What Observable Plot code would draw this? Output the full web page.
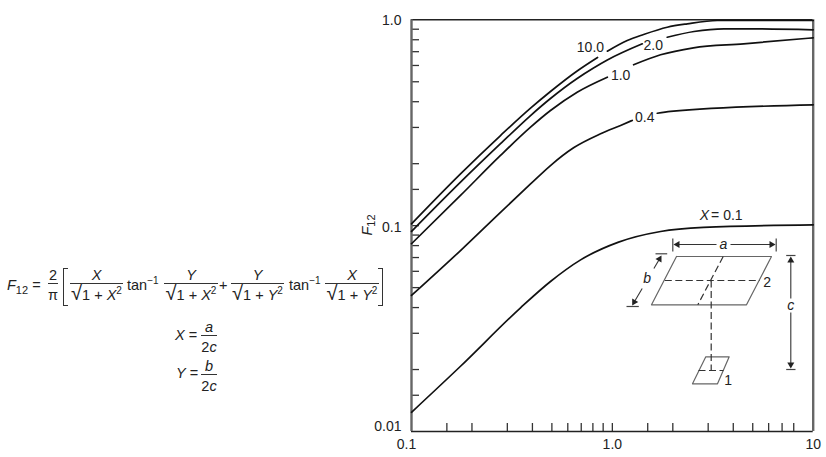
<!DOCTYPE html>
<html><head><meta charset="utf-8">
<script src="https://cdn.jsdelivr.net/npm/d3@7"></script>
<script src="https://cdn.jsdelivr.net/npm/@observablehq/plot@0.6"></script>
<style>
html,body{margin:0;padding:0;background:#fff}
#wrap{position:relative;width:826px;height:457px;overflow:hidden;font-family:"Liberation Sans",Arial,sans-serif;color:#222}
#wrap svg{position:absolute;left:0;top:0;background:transparent}
.t{position:absolute;font-size:14.5px;line-height:16px;white-space:nowrap}
.c{transform:translateX(-50%)}
.bar{position:absolute;height:1px;background:#333}
sub{font-size:11px;line-height:0}
sup{font-size:10px;line-height:0}
.br{position:absolute;width:4px;border:1.3px solid #333}
</style></head><body><div id="wrap"></div>
<script>
// Curve readings: X on the x axis, F12 on the y axis. NaN marks a break for the curve's label.
const x01 = [0.1,0.1754,0.349,0.492,0.695,1.074,1.738,2.845,10];
const y01 = [0.0124,0.02075,0.0399,0.05355,0.0682,0.0832,0.0937,0.098,0.1009];
const x04 = [0.1,0.1754,0.2774,0.3915,0.492,0.641,0.874,1.099,1.256,1.45,1.674,1.95,10];
const y04 = [0.0458,0.0757,0.1161,0.1594,0.1959,0.2388,0.2793,0.3068,0.3245,NaN,0.3516,0.3589,0.3864];
const x10 = [0.1,0.1754,0.2774,0.3915,0.492,0.668,0.944,1.1,1.276,1.738,2.535,4.5,10];
const y10 = [0.0817,0.1402,0.2193,0.3009,0.3624,0.4449,0.5263,NaN,0.6045,0.6761,0.7311,0.7645,0.8178];
const x20 = [0.1,0.1754,0.2774,0.3915,0.492,0.668,0.806,0.944,1.41,1.6,1.876,2.55,3.59,4.88,10];
const y20 = [0.0937,0.1626,0.25,0.3428,0.4147,0.5188,0.5832,0.6378,0.7645,NaN,0.823,0.8773,0.9043,0.9043,0.894];
const x100 = [0.1,0.1754,0.2774,0.3915,0.492,0.668,0.844,0.9,0.944,1.186,1.43,1.876,2.36,3.33,10];
const y100 = [0.1021,0.1786,0.2741,0.3722,0.4484,0.5641,0.656,NaN,0.704,0.7935,0.8485,0.9205,0.9563,0.992,0.992];

const xTicks = [0.15,0.2,0.3,0.4,0.5,0.6,0.7,0.8,0.9,1,1.5,2,3,4,5,6,7,8];
const yTicks = [0.015,0.02,0.03,0.04,0.05,0.06,0.07,0.08,0.09,0.1,0.15,0.2,0.3,0.4,0.5,0.6,0.7,0.8,0.9];
const xLabelValues = [0.1,1,10];
const xLabelTexts = ["0.1","1.0","10"];
const yLabelValues = [0.01,0.1,1];
const yLabelTexts = ["0.01","0.1","1.0"];

const curveLabels = ["10.0","2.0","1.0","0.4"];
const curveLabelX = [0.778,1.597,1.10,1.45];
const curveLabelY = [0.7336,0.75,0.536,0.335];

const table = (xs,ys) => xs.map((x,i)=>({x,y:ys[i]}));
const lineOpts = {x:"x",y:"y",stroke:"#111",strokeWidth:1.7,curve:"monotone-x"};
const txt = {fontFamily:"Liberation Sans, Arial, sans-serif",fontSize:14,fill:"#222"};
const xNudge = [-5,0,0];
const yNudge = [-5,2,1];

const main = Plot.plot({
  width:826,height:457,
  marginLeft:411,marginRight:13.3,marginTop:19.3,marginBottom:26,
  x:{type:"log",domain:[0.1,10]},
  y:{type:"log",domain:[0.01,1]},
  marks:[
    Plot.axisX({ticks:xTicks,tickSize:-8,tickFormat:()=>"",stroke:"#333",strokeWidth:1.3,label:null}),
    Plot.axisY({ticks:yTicks,tickSize:-8,tickFormat:()=>"",stroke:"#333",strokeWidth:1.3,label:null}),
    Plot.ruleY([1,0.01],{stroke:"#222",strokeWidth:1.4}),
    Plot.ruleX([0.1,10],{stroke:"#666",strokeWidth:2.4}),
    Plot.line(table(x01,y01),lineOpts),
    Plot.line(table(x04,y04),lineOpts),
    Plot.line(table(x10,y10),lineOpts),
    Plot.line(table(x20,y20),lineOpts),
    Plot.line(table(x100,y100),lineOpts),
    ...xLabelValues.map((v,i)=>Plot.text([v],{x:d=>d,frameAnchor:"bottom",text:()=>xLabelTexts[i],dy:17,dx:xNudge[i],...txt})),
    ...yLabelValues.map((v,i)=>Plot.text([v],{y:d=>d,frameAnchor:"left",text:()=>yLabelTexts[i],textAnchor:"end",dx:-10,dy:yNudge[i],...txt})),
    Plot.text(curveLabels,{x:(d,i)=>curveLabelX[i],y:(d,i)=>curveLabelY[i],text:d=>d,...txt}),
    Plot.text(["X"],{x:[3.52],y:[0.112],text:d=>d,textAnchor:"end",dx:-13,fontStyle:"italic",...txt}),
    Plot.text(["= 0.1"],{x:[3.52],y:[0.112],text:d=>d,textAnchor:"start",dx:-11,...txt})
  ]
});
main.style.background="transparent";

// Schematic of the two plates, in its own local units.
const plate2 = [[56,56],[151,56],[126,104.3],[31,104.3],[56,56]];
const plate1 = [[85.3,156.3],[108.7,156.3],[97,183.3],[72,183.3],[85.3,156.3]];
const dashes = [[44.3,80,139.3,80],[102.7,56,77.3,104.3],[90.7,80,90.7,170],[78,170,103,170]];
const endTicks = [[52.3,38,52.3,51],[155.7,38,155.7,51],[35,53.3,46.7,53.3],[6,106,18.3,106],[165.7,55,175,55],[165.7,169,175,169]];
const shafts = [[96,44,57,44],[110,44,151,44],[33.4,68,39,58.5],[21.7,88,13.7,101.5],[170.3,98,170.3,60],[170.3,112,170.3,164]];
const heads = [[57,44,-90],[151,44,90],[39,58.5,30],[13.7,101.5,210],[170.3,60,0],[170.3,164,180]];
const schematicLabels = [["a",103,44,true],["b",26.7,77.7,true],["c",170.3,105,true],["2",146.7,82.3,false],["1",107.7,180,false]];

const schem = Plot.plot({
  width:200,height:190,margin:0,
  x:{domain:[0,200],axis:null},
  y:{domain:[190,0],range:[190,0],axis:null},
  marks:[
    Plot.line(plate2,{x:"0",y:"1",stroke:"#666",strokeWidth:1.2}),
    Plot.line(plate1,{x:"0",y:"1",stroke:"#666",strokeWidth:1.2}),
    Plot.link(dashes,{x1:"0",y1:"1",x2:"2",y2:"3",stroke:"#333",strokeWidth:1.2,strokeDasharray:"7 3.5"}),
    Plot.link(endTicks,{x1:"0",y1:"1",x2:"2",y2:"3",stroke:"#444",strokeWidth:1.2}),
    Plot.link(shafts,{x1:"0",y1:"1",x2:"2",y2:"3",stroke:"#333",strokeWidth:1.1}),
    Plot.dot(heads,{x:"0",y:"1",rotate:"2",symbol:"triangle",r:2.6,fill:"#222",stroke:"none"}),
    Plot.text(schematicLabels.filter(d=>d[3]),{x:"1",y:"2",text:"0",fontStyle:"italic",...txt,fontSize:14}),
    Plot.text(schematicLabels.filter(d=>!d[3]),{x:"1",y:"2",text:"0",...txt})
  ]
});
schem.style.left="620px";schem.style.top="200px";schem.style.background="transparent";

const wrap=document.getElementById("wrap");
wrap.append(main,schem);

// Formula and axis title as real text
const add=(html,left,top,cls="")=>{const d=document.createElement("div");d.className="t "+cls;d.innerHTML=html;d.style.left=left+"px";d.style.top=top+"px";wrap.append(d);return d;};
const bar=(l,t,w)=>{const d=document.createElement("div");d.className="bar";d.style.cssText=`left:${l}px;top:${t}px;width:${w}px`;wrap.append(d);};
const frac=(num,den,l,w,yBar)=>{bar(l,yBar,w);add(num,l+w/2,yBar-16,"c");add(den,l+w/2,yBar+4,"c");};
const root=(a)=>`<span style="font-size:20px;line-height:0">√</span>1 + <i>${a}</i><sup>2</sup>`;

add('<i>F</i><sub>12</sub> =',7,277);
frac('2','π',48,10,283);
const lb=document.createElement("div");lb.className="br";lb.style.cssText="left:63px;top:268px;height:36px;border-right:none";wrap.append(lb);
frac('<i>X</i>',root('X'),70,53,283);
add('tan<sup>−1</sup>',127,277);
frac('<i>Y</i>',root('X'),164,54,283);
add('+',219,277);
frac('<i>Y</i>',root('Y'),231,53,283);
add('tan<sup>−1</sup>',289,277);
frac('<i>X</i>',root('Y'),325,54,283);
const rb=document.createElement("div");rb.className="br";rb.style.cssText="left:378px;top:268px;height:36px;border-left:none";wrap.append(rb);
add('<i>X</i> =',175,327);
frac('<i>a</i>','2<i>c</i>',201,16,335);
add('<i>Y</i> =',176,365);
frac('<i>b</i>','2<i>c</i>',201,16,374);
const ft=add('<i>F</i><sub>12</sub>',356,217);
ft.style.transform="rotate(-90deg)";
</script></body></html>
